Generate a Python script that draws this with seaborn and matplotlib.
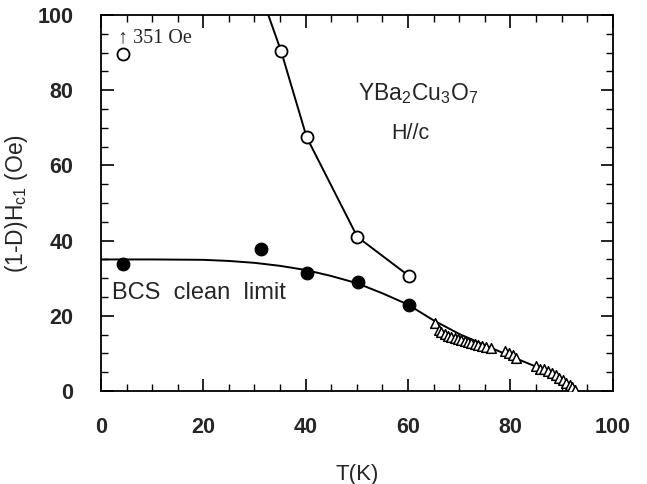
import pandas as pd
import seaborn as sns
import matplotlib.pyplot as plt
from matplotlib.ticker import MultipleLocator

# Data
open_T = [35.2, 40.2, 50.1, 60.2]
open_H = [90.4, 67.5, 41.0, 30.6]
open_line_T = [32.7, 35.2, 40.2, 50.1, 60.2]
open_line_H = [100.0, 90.4, 67.5, 41.0, 30.6]
offscale_T = [4.3]
offscale_H = [89.6]

filled_T = [4.4, 31.2, 40.3, 50.3, 60.2]
filled_H = [33.8, 37.8, 31.5, 29.1, 22.9]

tri_T = [65.2, 66.1, 66.5, 67.2, 67.8, 68.5, 69.1, 69.8, 70.4, 71.1, 71.7, 72.4,
         73.0, 73.7, 74.4, 75.3, 76.3, 78.9, 79.8, 80.5, 81.2, 85.1, 85.7, 86.5,
         87.4, 88.2, 89.0, 89.6, 90.3, 90.9, 91.6, 92.1, 92.6]
tri_H = [18.2, 16.2, 15.6, 15.2, 14.6, 14.4, 14.2, 13.9, 13.6, 13.3, 13.1, 12.8,
         12.5, 12.2, 12.0, 11.8, 11.4, 10.7, 10.2, 9.6, 8.7, 6.6, 6.0, 5.8,
         5.4, 4.9, 4.3, 3.6, 2.9, 2.2, 1.6, 1.0, 0.3]

bcs_T = [0, 10, 20, 25, 30, 35, 40, 45, 50, 55, 60, 65, 70, 75, 80, 85, 88, 90, 91.5, 92.5]
bcs_H = [35.0, 35.0, 34.9, 34.6, 34.1, 33.3, 32.2, 30.6, 28.7, 26.0, 23.0, 18.8,
         15.2, 12.2, 9.3, 6.5, 4.6, 3.2, 1.8, 0.0]

sns.set_style("ticks")
plt.rcParams["font.family"] = ["Liberation Sans", "DejaVu Sans"]
plt.rcParams["mathtext.fontset"] = "custom"
plt.rcParams["mathtext.rm"] = "Liberation Sans"
plt.rcParams["mathtext.it"] = "Liberation Sans"

fig = plt.figure(figsize=(6.47, 4.84), dpi=100)
ax = fig.add_axes([0.156, 0.192, 0.791, 0.777])

bcs = pd.DataFrame({"T": bcs_T, "H": bcs_H})
sns.lineplot(data=bcs, x="T", y="H", color="black", lw=1.4, ax=ax, sort=False)
sns.lineplot(x=open_line_T, y=open_line_H, color="black", lw=1.4, ax=ax, sort=False)

sns.scatterplot(x=open_T + offscale_T, y=open_H + offscale_H, marker="o", s=75,
                facecolor="white", edgecolor="black", linewidth=1.3, ax=ax, zorder=3)
sns.scatterplot(x=filled_T, y=filled_H, marker="o", s=85, color="black",
                edgecolor="black", ax=ax, zorder=3)
sns.scatterplot(x=tri_T, y=tri_H, marker="^", s=48, facecolor="white",
                edgecolor="black", linewidth=1.1, ax=ax, zorder=3)

ax.set_xlim(0, 100)
ax.set_ylim(0, 100)
ax.xaxis.set_major_locator(MultipleLocator(20))
ax.xaxis.set_minor_locator(MultipleLocator(5))
ax.yaxis.set_major_locator(MultipleLocator(20))
ax.yaxis.set_minor_locator(MultipleLocator(5))
ax.tick_params(which="both", direction="in", top=True, right=True, color="black")
ax.tick_params(which="major", length=9, width=1.2)
ax.tick_params(which="minor", length=5, width=1.0)
ax.tick_params(axis="x", which="major", pad=19)
ax.tick_params(axis="y", which="major", pad=20)
for lab in ax.get_xticklabels() + ax.get_yticklabels():
    lab.set_fontweight("bold")
    lab.set_fontsize(15.5)
for sp in ax.spines.values():
    sp.set_linewidth(1.3)
    sp.set_color("black")

ax.set_xlabel("T(K)", fontsize=16)
ax.xaxis.set_label_coords(0.5, -0.195)
ax.set_ylabel("(1-D)H$_{\\rm c1}$ (Oe)", fontsize=16.5)
ax.yaxis.set_label_coords(-0.138, 0.5)

ax.text(3.3, 94, "\u2191 351 Oe", fontsize=14.5, va="center",
        family=["Liberation Serif", "DejaVu Serif"])
ax.text(50.2, 79, "YBa$_2$Cu$_3$O$_7$", fontsize=16.5, va="center")
ax.text(60.4, 68.6, "H//c", fontsize=15.5, ha="center", va="center")
ax.text(2.1, 26, "BCS  clean  limit", fontsize=17, va="center")

fig.savefig("out.png", dpi=100)
